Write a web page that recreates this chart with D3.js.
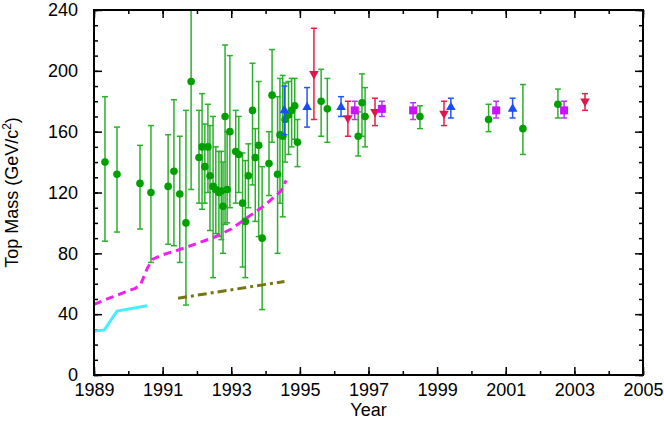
<!DOCTYPE html>
<html><head><meta charset="utf-8">
<script src="https://cdn.jsdelivr.net/npm/d3@7"></script>
<style>body{margin:0;background:#fff}svg{display:block}text{font-family:"Liberation Sans",Arial,sans-serif}</style>
</head><body><svg id="c" width="664" height="421"></svg>
<script>
// ---- data ----
// [year, mass, low, high]
const greenPts = [
 [1989.32,140,88,183],[1989.67,132,94,163],[1990.34,126,96,151],[1990.66,120,74,164],
 [1991.16,124,86,158],[1991.33,134,85,181],[1991.50,119,74,157],[1991.68,100,46,174],
 [1991.83,193,122,265],[1992.06,143,113,174],[1992.15,150,109,185],[1992.23,137,113,165],
 [1992.32,150,120,178],[1992.38,131,95,164],[1992.47,124,64,170],[1992.55,122,93,150],
 [1992.64,120,91,147],[1992.71,121,89,147],[1992.76,111,80,140],[1992.82,170,99,217],
 [1992.88,122,100,160],[1992.96,160,110,210],[1993.13,147,113,174],[1993.22,145,120,170],
 [1993.33,113,71,146],[1993.41,101,64,141],[1993.50,131,110,152],[1993.62,174,125,205],
 [1993.70,143,101,162],[1993.80,151,91,193],[1993.90,90,43,137],[1994.10,139,118,160],
 [1994.19,184,153,214],[1994.35,132,80,183],[1994.42,158,113,195],[1994.50,157,104,197],
 [1994.57,168,140,192],[1994.67,171,145,193],[1994.76,174,150,195],[1994.85,177,155,195],
 [1994.93,153,137,168],[1995.62,180,157,201],[1995.80,175,153,195],
 [1996.70,157,144,173],[1996.81,179,157,198],[1996.90,170,150,189],[1998.50,170,162,177],
 [2000.50,168,160,178],[2001.50,162,145,191],[2002.52,178,169,188]
];
const bluePts = [
 [1994.55,174,158,190],[1995.21,176,163,189],[1996.20,176,170,183],[1999.40,176,169,182],[2001.20,175,169,182]
];
const redPts = [
 [1995.41,198,168,228],[1996.40,169,157,180],[1997.19,173,164,182],[1999.20,172,164,180],[2003.31,180,174,185]
];
const purplePts = [
 [1996.60,174,168,180],[1997.39,175,170,180],[1998.30,174,168,179],[2000.72,174,169,180],[2002.70,174,169,180]
];
const cyanLine = [[1989.0,29],[1989.3,29.5],[1989.67,42],[1990.55,45.5]];
const magentaLine = [[1989.0,46.5],[1989.5,51],[1990.2,57],[1990.35,59],[1990.55,70],[1990.7,76],
 [1991.0,79],[1991.5,82.5],[1992.0,86.5],[1992.5,90.5],[1993.0,96],[1993.5,104],[1994.0,112],
 [1994.3,118],[1994.45,121],[1994.6,128]];
const oliveLine = [[1991.45,50.5],[1994.55,61.5]];
const xMajor = [1989,1991,1993,1995,1997,1999,2001,2003,2005];
const xMinor = d3.range(1989,2006,1);
const yMajor = [0,40,80,120,160,200,240];
const yMinor = d3.range(0,241,10);
const xLabel = "Year";

// ---- layout ----
const svg = d3.select("#c");
const L=94,R=643,T=10,B=375;
const FS=18;
const x = d3.scaleLinear().domain([1989,2005]).range([L,R]);
const y = d3.scaleLinear().domain([0,240]).range([B,T]);

svg.append("defs").append("clipPath").attr("id","clip")
 .append("rect").attr("x",L).attr("y",T).attr("width",R-L).attr("height",B-T);

function ax(g){ g.selectAll(".domain").remove(); g.selectAll("line").attr("stroke","#000").attr("stroke-width",1.5);
  g.selectAll("text").attr("font-size",FS).attr("fill","#000").style("font-family","Liberation Sans, Arial, sans-serif"); }

svg.append("g").attr("transform",`translate(0,${B})`).call(d3.axisBottom(x).tickValues(xMinor).tickSize(-4).tickFormat("")).call(ax);
svg.append("g").attr("transform",`translate(0,${B})`).call(d3.axisBottom(x).tickValues(xMajor).tickSize(-8).tickPadding(8).tickFormat(d3.format("d"))).call(ax);
svg.append("g").attr("transform",`translate(0,${T})`).call(d3.axisTop(x).tickValues(xMinor).tickSize(-4).tickFormat("")).call(ax);
svg.append("g").attr("transform",`translate(0,${T})`).call(d3.axisTop(x).tickValues(xMajor).tickSize(-8).tickFormat("")).call(ax);
svg.append("g").attr("transform",`translate(${L},0)`).call(d3.axisLeft(y).tickValues(yMinor).tickSize(-4).tickFormat("")).call(ax);
svg.append("g").attr("transform",`translate(${L},0)`).call(d3.axisLeft(y).tickValues(yMajor).tickSize(-8).tickPadding(16).tickFormat(d3.format("d"))).call(ax);
svg.append("g").attr("transform",`translate(${R},0)`).call(d3.axisRight(y).tickValues(yMinor).tickSize(-4).tickFormat("")).call(ax);
svg.append("g").attr("transform",`translate(${R},0)`).call(d3.axisRight(y).tickValues(yMajor).tickSize(-8).tickFormat("")).call(ax);

const plot = svg.append("g").attr("clip-path","url(#clip)");

function errBars(data,color){
  const g = plot.append("g").attr("stroke",color).attr("stroke-width",1.5).attr("fill","none");
  data.forEach(d=>{
    g.append("line").attr("x1",x(d[0])).attr("x2",x(d[0])).attr("y1",y(d[2])).attr("y2",y(d[3]));
    g.append("line").attr("x1",x(d[0])-3).attr("x2",x(d[0])+3).attr("y1",y(d[2])).attr("y2",y(d[2]));
    g.append("line").attr("x1",x(d[0])-3).attr("x2",x(d[0])+3).attr("y1",y(d[3])).attr("y2",y(d[3]));
  });
}
errBars(greenPts,"#2cb02c");
plot.append("g").selectAll("circle").data(greenPts).join("circle")
  .attr("cx",d=>x(d[0])).attr("cy",d=>y(d[1])).attr("r",3.8).attr("fill","#00a000");

errBars(bluePts,"#2255ff");
plot.append("g").selectAll("path").data(bluePts).join("path")
  .attr("d",d3.symbol(d3.symbolTriangle,40)).attr("fill","#1a4cff")
  .attr("transform",d=>`translate(${x(d[0])},${y(d[1])})`);
errBars(redPts,"#ee1c44");
plot.append("g").selectAll("path").data(redPts).join("path")
  .attr("d",d3.symbol(d3.symbolTriangle,40)).attr("fill","#e0154a")
  .attr("transform",d=>`translate(${x(d[0])},${y(d[1])}) rotate(180)`);
errBars(purplePts,"#bb33ff");
plot.append("g").selectAll("rect").data(purplePts).join("rect")
  .attr("x",d=>x(d[0])-4).attr("y",d=>y(d[1])-4).attr("width",8).attr("height",8).attr("fill","#cc11ff");

const line = d3.line().x(d=>x(d[0])).y(d=>y(d[1]));
plot.append("path").datum(cyanLine).attr("d",line).attr("fill","none").attr("stroke","#44eeff").attr("stroke-width",3);
plot.append("path").datum(magentaLine).attr("d",line).attr("fill","none").attr("stroke","#ee22ee").attr("stroke-width",3).attr("stroke-dasharray","8,5");
plot.append("path").datum(oliveLine).attr("d",line).attr("fill","none").attr("stroke","#767613").attr("stroke-width",3).attr("stroke-dasharray","9,4,3,4");

svg.append("rect").attr("x",L).attr("y",T).attr("width",R-L).attr("height",B-T).attr("fill","none").attr("stroke","#000").attr("stroke-width",2);

svg.append("text").attr("x",(L+R)/2).attr("y",416).attr("text-anchor","middle").attr("font-size",FS).text(xLabel);
const yl = svg.append("text").attr("transform",`translate(18,${(T+B)/2}) rotate(-90)`).attr("text-anchor","middle").attr("font-size",FS);
yl.append("tspan").text("Top Mass (GeV/c");
yl.append("tspan").attr("font-size",12).attr("dy",-7).text("2");
yl.append("tspan").attr("dy",7).text(")");
</script></body></html>
